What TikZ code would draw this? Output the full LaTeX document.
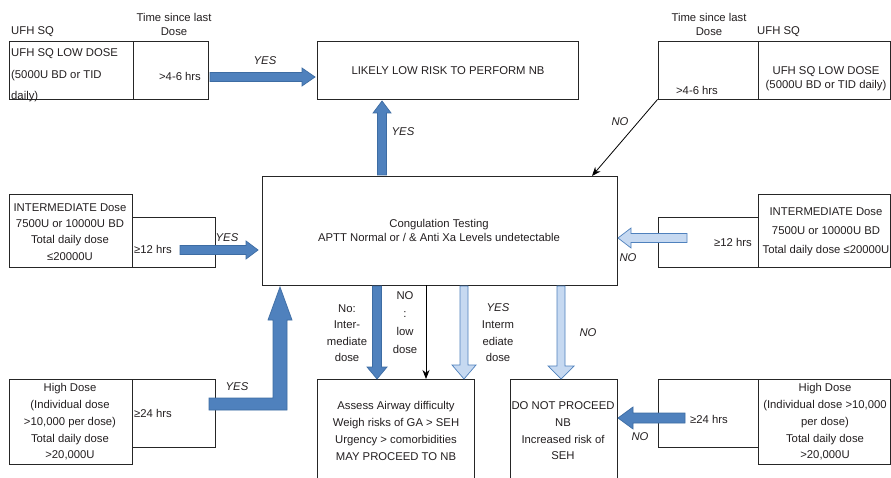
\documentclass[tikz,border=0pt]{standalone}
\usepackage{fontspec}
\setmainfont{Liberation Sans}
\usetikzlibrary{calc,fit,arrows.meta}
\definecolor{txt}{HTML}{231F20}
\definecolor{bfill}{HTML}{4F81BD}
\definecolor{bline}{HTML}{3D6CA3}
\definecolor{lfill}{HTML}{C6D9F1}
\definecolor{lline}{HTML}{4F81BD}
\tikzset{
 box/.style={draw=black!85, line width=0.9pt, inner sep=0pt},
 lbl/.style={text=txt, inner sep=0pt, font=\fontsize{11.3}{14}\selectfont},
 yn/.style={text=txt, inner sep=0pt, font=\fontsize{11.3}{14}\selectfont\itshape},
 solidarrow/.style={fill=bfill, draw=bline, line width=0.7pt},
 lightarrow/.style={fill=lfill, draw=lline, line width=0.7pt},
 thinarrow/.style={draw=black, line width=0.8pt, -{Stealth[length=9pt,width=7pt]}},
}
\newcommand{\blockarrow}[6]{%
 \coordinate (bhA) at (#2);\coordinate (bhB) at (#3);
 \coordinate (bhH) at ($(bhB)!#6!(bhA)$);
 \draw[#1] ($(bhA)!#4!90:(bhB)$) -- ($(bhH)!#4!-90:(bhA)$) -- ($(bhH)!#5!-90:(bhA)$) -- (bhB) -- ($(bhH)!#5!90:(bhA)$) -- ($(bhH)!#4!90:(bhA)$) -- ($(bhA)!#4!-90:(bhB)$) -- cycle;}
\begin{document}
\begin{tikzpicture}[x=1pt,y=-1pt]
\useasboundingbox (0,0) rectangle (891,478);
\fill[white] (0,0) rectangle (891,478);

% headers
\node[lbl, anchor=west] (hl1) at (11,32) {UFH SQ};
\node[lbl, align=center] (hl2) at (174,24) {Time since last\\Dose};
\node[lbl, align=center] (hr1) at (709,24) {Time since last\\Dose};
\node[lbl, anchor=west] (hr2) at (757,32) {UFH SQ};

% boxes
\node[box, fit={(9,41) (133,99)}] (b1a) {};
\node[box, fit={(133,41) (208,99)}] (b1b) {};
\node[box, fit={(317,41) (578,99)}] (likely) {};
\node[box, fit={(658,41) (758,99)}] (b2a) {};
\node[box, fit={(758,41) (890,99)}] (b2b) {};
\node[box, fit={(262,176) (617,285)}] (center) {};
\node[box, fit={(9,194) (132,267)}] (b3a) {};
\node[box, fit={(132,217) (215,267)}] (b3b) {};
\node[box, fit={(658,217) (758,267)}] (b4a) {};
\node[box, fit={(758,194) (890,267)}] (b4b) {};
\node[box, fit={(9,379) (132,464)}] (b5a) {};
\node[box, fit={(132,379) (215,447)}] (b5b) {};
\node[box, fit={(658,379) (758,447)}] (b6a) {};
\node[box, fit={(758,379) (890,464)}] (b6b) {};
\node[box, fit={(317,379) (474,490)}] (assess) {};
\node[box, fit={(510,379) (617,490)}] (dnp) {};

% texts
\node[lbl, align=left, anchor=west, font=\fontsize{11.3}{21.7}\selectfont] (t1a) at (11,75.5) {UFH SQ LOW DOSE\\(5000U BD or TID\\daily)};
\node[lbl] (t1b) at (180,76) {>4-6 hrs};
\node[lbl] (tlik) at (448,71) {LIKELY LOW RISK TO PERFORM NB};
\node[lbl] (t2a) at (697,90) {>4-6 hrs};
\node[lbl, align=center] (t2b) at (826,79) {UFH SQ LOW DOSE\\(5000U BD or TID daily)};
\node[lbl, align=center] (tc) at (439,230) {Congulation Testing\\APTT Normal or / \& Anti Xa Levels undetectable};
\node[lbl, align=center, font=\fontsize{11.3}{16.3}\selectfont] (t3a) at (70,232) {INTERMEDIATE Dose\\7500U or 10000U BD\\Total daily dose\\≤20000U};
\node[lbl, anchor=west] (t3b) at (134,249) {≥12 hrs};
\node[lbl] (t4a) at (733,242) {≥12 hrs};
\node[lbl, align=center, font=\fontsize{11.3}{19}\selectfont] (t4b) at (826,232) {INTERMEDIATE Dose\\7500U or 10000U BD\\Total daily dose ≤20000U};
\node[lbl, align=center, font=\fontsize{11.3}{16.75}\selectfont] (t5a) at (70,422) {High Dose\\(Individual dose\\>10,000 per dose)\\Total daily dose\\>20,000U};
\node[lbl, anchor=west] (t5b) at (134,413) {≥24 hrs};
\node[lbl] (t6a) at (709,419) {≥24 hrs};
\node[lbl, align=center, font=\fontsize{11.3}{16.75}\selectfont] (t6b) at (825,422) {High Dose\\(Individual dose >10,000\\per dose)\\Total daily dose\\>20,000U};
\node[lbl, align=center, font=\fontsize{11.3}{16.7}\selectfont] (tas) at (396,431) {Assess Airway difficulty\\Weigh risks of GA > SEH\\Urgency > comorbidities\\MAY PROCEED TO NB};
\node[lbl, align=center, font=\fontsize{11.3}{16.7}\selectfont] (tdn) at (563,431) {DO NOT PROCEED\\NB\\Increased risk of\\SEH};

% labels
\node[yn] (y1) at (265,61) {YES};
\node[yn] (y2) at (403,132) {YES};
\node[yn] (n1) at (620,122) {NO};
\node[yn] (y3) at (227,238) {YES};
\node[yn] (n2) at (628,258) {NO};
\node[yn] (y4) at (237,387) {YES};
\node[yn] (n3) at (640,437) {NO};
\node[lbl, align=center, font=\fontsize{11.3}{16.5}\selectfont] (l1) at (347,333) {No:\\Inter-\\mediate\\dose};
\node[lbl, align=center, font=\fontsize{11.3}{18}\selectfont] (l2) at (405,323) {NO\\:\\low\\dose};
\node[lbl, align=center, font=\fontsize{11.3}{16.7}\selectfont] (l3) at (498,333) {\textit{YES}\\Interm\\ediate\\dose};
\node[yn] (n4) at (588,333) {NO};

% arrows
\blockarrow{solidarrow}{210,77}{315,77}{4.5pt}{9pt}{13pt}
\blockarrow{solidarrow}{382,175}{382,101}{4.5pt}{9pt}{12pt}
\blockarrow{solidarrow}{180,250}{258,250}{4.5pt}{9pt}{12pt}
\blockarrow{lightarrow}{687,238}{618,238}{4.5pt}{10pt}{13pt}
\blockarrow{solidarrow}{685,418}{618,418}{5pt}{11pt}{15pt}
\blockarrow{solidarrow}{377,286}{377,379}{4.5pt}{10pt}{12pt}
\blockarrow{lightarrow}{464,286}{464,379}{4pt}{12pt}{14pt}
\blockarrow{lightarrow}{561,286}{561,379}{4pt}{13pt}{13pt}
\draw[solidarrow] (209,398) -- (273,398) -- (273,320) -- (268,320) -- (280,287) -- (292,320) -- (287,320) -- (287,410) -- (209,410) -- cycle;

\coordinate (dgE) at (592,176);
\draw[thinarrow] (b2a.south west) -- (dgE);
\coordinate (lowS) at (426,285);
\coordinate (lowE) at (426,379);
\draw[thinarrow] (lowS) -- (lowE);
\end{tikzpicture}
\end{document}
